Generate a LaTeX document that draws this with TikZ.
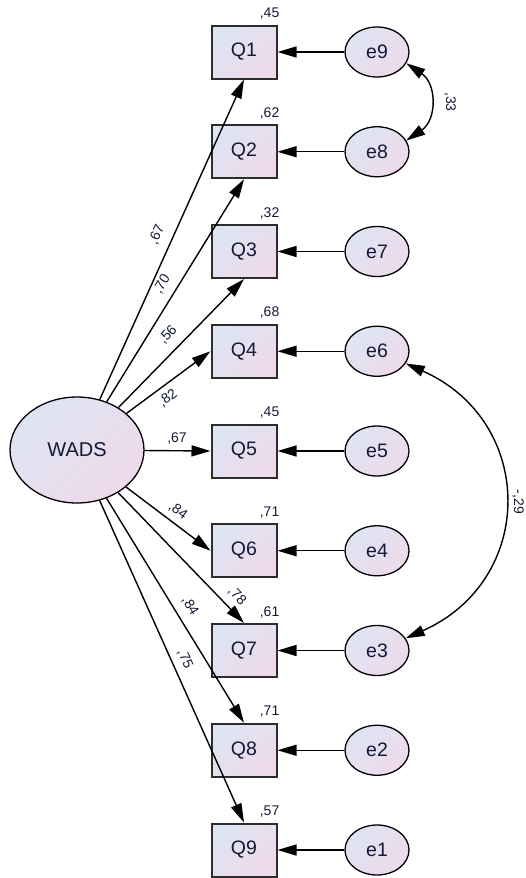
\documentclass[tikz,border=0pt]{standalone}
\usepackage{fontspec}
\setmainfont{Liberation Sans}
\usetikzlibrary{arrows.meta,shapes.geometric}
\definecolor{qa}{RGB}{222,228,242}
\definecolor{qb}{RGB}{238,218,234}
\definecolor{txt}{RGB}{20,25,55}
\definecolor{boxline}{RGB}{45,45,45}
\tikzset{
  obs/.style={rectangle, draw=boxline, line width=2pt, minimum width=65pt, minimum height=53pt, inner sep=0pt,
    top color=qa, bottom color=qb, shading angle=45, font=\fontsize{19.5}{19.5}\selectfont, text=txt},
  lat/.style={ellipse, draw=black, line width=1.3pt, inner sep=0pt,
    top color=qa, bottom color=qb, shading angle=45, text=txt},
  err/.style={lat, minimum width=64pt, minimum height=50pt, font=\fontsize{19.5}{19.5}\selectfont},
  wads/.style={lat, minimum width=134pt, minimum height=106pt, font=\fontsize{20}{20}\selectfont},
  arr/.style={-{Triangle[length=19pt,width=11pt]}, line width=1.4pt},
  cov/.style={{Triangle[length=19pt,width=11pt]}-{Triangle[length=19pt,width=11pt]}, line width=1.4pt},
  num/.style={font=\fontsize{14}{14}\selectfont, text=txt, inner sep=0pt},
  rsq/.style={num, anchor=south east, xshift=2pt, yshift=5pt}
}
\begin{document}
\begin{tikzpicture}[x=1pt,y=1pt]
\useasboundingbox (0,0) rectangle (526,-878);
% latent
\node[wads] (W) at (77,-450) {WADS};
% observed
\node[obs] (Q1) at (244,-52) {Q1};
\node[obs] (Q2) at (244,-151.75) {Q2};
\node[obs] (Q3) at (244,-251.5) {Q3};
\node[obs] (Q4) at (244,-351.25) {Q4};
\node[obs] (Q5) at (244,-451) {Q5};
\node[obs] (Q6) at (244,-550.75) {Q6};
\node[obs] (Q7) at (244,-650.5) {Q7};
\node[obs] (Q8) at (244,-750.25) {Q8};
\node[obs] (Q9) at (244,-850) {Q9};
% errors
\node[err] (e9) at (377,-52) {e9};
\node[err] (e8) at (377,-151.75) {e8};
\node[err] (e7) at (377,-251.5) {e7};
\node[err] (e6) at (377,-351.25) {e6};
\node[err] (e5) at (377,-451) {e5};
\node[err] (e4) at (377,-550.75) {e4};
\node[err] (e3) at (377,-650.5) {e3};
\node[err] (e2) at (377,-750.25) {e2};
\node[err] (e1) at (377,-850) {e1};
% R squared
\node[rsq] (r1) at (Q1.north east) {,45};
\node[rsq] (r2) at (Q2.north east) {,62};
\node[rsq] (r3) at (Q3.north east) {,32};
\node[rsq] (r4) at (Q4.north east) {,68};
\node[rsq] (r5) at (Q5.north east) {,45};
\node[rsq] (r6) at (Q6.north east) {,71};
\node[rsq] (r7) at (Q7.north east) {,61};
\node[rsq] (r8) at (Q8.north east) {,71};
\node[rsq] (r9) at (Q9.north east) {,57};
% loadings
\draw[arr] (W) -- (Q1.south);
\draw[arr] (W) -- (Q2.south);
\draw[arr] (W) -- (Q3.south);
\draw[arr] (W) -- (Q4.west);
\draw[arr] (W) -- (Q5.west);
\draw[arr] (W) -- (Q6.west);
\draw[arr] (W) -- (Q7.north);
\draw[arr] (W) -- (Q8.north);
\draw[arr] (W) -- (Q9.north);
\node[num, rotate=65.8] (l1) at (157,-235) {,67};
\node[num, rotate=58.4] (l2) at (162,-284) {,70};
\node[num, rotate=45.8] (l3) at (168,-335) {,56};
\node[num, rotate=36.5] (l4) at (168,-398) {,82};
\node[num] (l5) at (177,-439) {,67};
\node[num, rotate=-36.5] (l6) at (178,-511) {,84};
\node[num, rotate=-46] (l7) at (237,-596) {,78};
\node[num, rotate=-58.5] (l8) at (190,-606) {,84};
\node[num, rotate=-65.9] (l9) at (185,-659) {,75};
% error paths
\draw[arr] (e9) -- (Q1);
\draw[arr] (e8) -- (Q2);
\draw[arr] (e7) -- (Q3);
\draw[arr] (e6) -- (Q4);
\draw[arr] (e5) -- (Q5);
\draw[arr] (e4) -- (Q6);
\draw[arr] (e3) -- (Q7);
\draw[arr] (e2) -- (Q8);
\draw[arr] (e1) -- (Q9);
% covariances
\draw[cov] (e9.-21) .. controls +(-34:37pt) and +(34:37pt) .. (e8.21);
\draw[cov] (e6.-23) .. controls +(-24:143pt) and +(24:143pt) .. (e3.23);
\node[num, rotate=-90] (c1) at (450,-102) {,33};
\node[num, rotate=-90] (c2) at (518,-502) {-,29};
\end{tikzpicture}
\end{document}
